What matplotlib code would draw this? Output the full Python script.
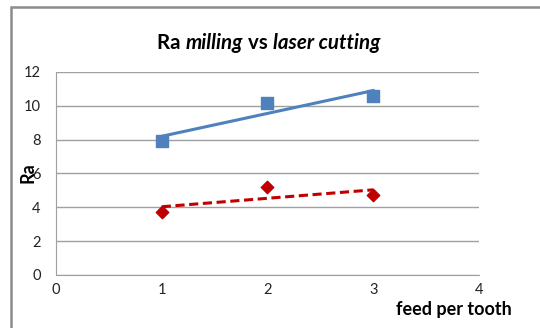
import numpy as np
import matplotlib.pyplot as plt
from matplotlib.patches import Rectangle

plt.rcParams['font.family'] = ['Lato', 'DejaVu Sans']

feed = [1, 2, 3]
ra_milling = [7.9, 10.15, 10.6]
ra_laser = [3.7, 5.2, 4.7]

fig = plt.figure(figsize=(5.4, 3.28), dpi=100)
ax = fig.add_axes([0.1037, 0.1616, 0.7833, 0.619])

# outer chart frame
fig.patches.append(Rectangle((11/540, -0.2), 1.2, 1.2 + (321/328 - 1), transform=fig.transFigure,
                             fill=False, edgecolor='#8c8c8c', linewidth=1.8))

# trend lines (linear fit)
xs = np.array(feed, dtype=float)
p1 = np.polyfit(xs, ra_milling, 1)
p2 = np.polyfit(xs, ra_laser, 1)
ax.plot(xs[[0, -1]], np.polyval(p1, xs[[0, -1]]), color='#4F81BD', lw=2.2, zorder=3)
ax.plot(xs[[0, -1]], np.polyval(p2, xs[[0, -1]]), color='#C00000', lw=2.2, ls=(0, (3, 1.5)), zorder=3)

ax.scatter(feed, ra_milling, marker='s', s=75, color='#4F81BD', zorder=4)
ax.scatter(feed, ra_laser, marker='D', s=40, color='#C00000', zorder=4)

ax.set_xlim(0, 4)
ax.set_ylim(0, 12)
ax.set_xticks([0, 1, 2, 3, 4])
ax.set_yticks([0, 2, 4, 6, 8, 10, 12])
ax.grid(axis='y', color='#a0a0a0', lw=1)
ax.set_axisbelow(True)
for s in ['top', 'right']:
    ax.spines[s].set_visible(False)
for s in ['left', 'bottom']:
    ax.spines[s].set_color('#a0a0a0')
ax.tick_params(length=0, labelsize=10.5, colors='#222222')
ax.tick_params(axis='x', pad=6)
ax.tick_params(axis='y', pad=11)

fig.text(28/540, (328-173)/328, 'Ra', rotation=90, fontsize=13, fontweight='bold', ha='center', va='center')
fig.text(512/540, (328-310)/328, 'feed per tooth', fontsize=13, fontweight='bold', ha='right', va='center')

# title with italic parts
t1 = fig.text(157/540, (328-43)/328, 'Ra ', fontsize=14.8, fontweight='bold', va='center')
t2 = ax.annotate('milling', xy=(1, 0), xycoords=t1, fontsize=14.8, fontweight='bold', style='italic', va='bottom')
t3 = ax.annotate(' vs ', xy=(1, 0), xycoords=t2, fontsize=14.8, fontweight='bold', va='bottom')
t4 = ax.annotate('laser cutting', xy=(1, 0), xycoords=t3, fontsize=14.8, fontweight='bold', style='italic', va='bottom')

fig.savefig('out.png', dpi=100)
